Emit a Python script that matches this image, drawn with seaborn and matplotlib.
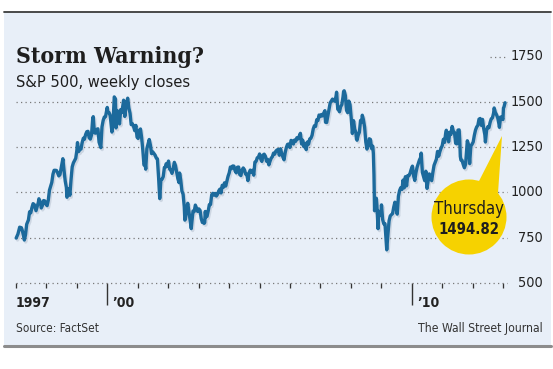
import matplotlib
matplotlib.use("Agg")
import matplotlib.pyplot as plt
import matplotlib.patheffects as pe
from matplotlib.patches import Rectangle, Ellipse, Polygon
from matplotlib.lines import Line2D
from matplotlib.transforms import blended_transform_factory
import seaborn as sns
import pandas as pd
import numpy as np

# ---------------- data ----------------
dates = [
 "1997-01-03","1997-01-24","1997-02-14","1997-03-07","1997-03-21","1997-04-11","1997-04-25","1997-05-09","1997-05-30","1997-06-13","1997-06-27","1997-07-11","1997-07-25","1997-08-08","1997-08-29","1997-09-12","1997-09-26","1997-10-03","1997-10-24","1997-10-31","1997-11-14","1997-11-28","1997-12-12","1997-12-26",
 "1998-01-09","1998-01-23","1998-02-06","1998-02-20","1998-03-06","1998-03-20","1998-04-03","1998-04-17","1998-05-01","1998-05-15","1998-05-29","1998-06-12","1998-06-26","1998-07-10","1998-07-17","1998-07-31","1998-08-14","1998-08-28","1998-09-04","1998-09-18","1998-10-02","1998-10-09","1998-10-23","1998-11-06","1998-11-20","1998-12-04","1998-12-18","1998-12-31",
 "1999-01-08","1999-01-22","1999-02-05","1999-02-19","1999-03-05","1999-03-19","1999-04-01","1999-04-16","1999-04-30","1999-05-14","1999-05-28","1999-06-11","1999-06-25","1999-07-09","1999-07-16","1999-07-30","1999-08-13","1999-08-27","1999-09-10","1999-09-24","1999-10-15","1999-10-29","1999-11-12","1999-11-26","1999-12-10","1999-12-31",
 "2000-01-07","2000-01-21","2000-02-04","2000-02-25","2000-03-10","2000-03-24","2000-04-07","2000-04-14","2000-04-28","2000-05-12","2000-05-26","2000-06-09","2000-06-23","2000-07-14","2000-07-28","2000-08-11","2000-08-25","2000-09-01","2000-09-15","2000-09-29","2000-10-13","2000-10-27","2000-11-10","2000-11-24","2000-12-08","2000-12-22",
 "2001-01-05","2001-01-19","2001-02-02","2001-02-16","2001-03-02","2001-03-16","2001-03-30","2001-04-06","2001-04-20","2001-05-04","2001-05-18","2001-06-01","2001-06-15","2001-06-29","2001-07-13","2001-07-27","2001-08-10","2001-08-24","2001-09-07","2001-09-21","2001-10-05","2001-10-19","2001-11-02","2001-11-16","2001-11-30","2001-12-07","2001-12-21",
 "2002-01-04","2002-01-18","2002-02-01","2002-02-15","2002-03-01","2002-03-15","2002-03-29","2002-04-12","2002-04-26","2002-05-10","2002-05-17","2002-05-31","2002-06-14","2002-06-28","2002-07-12","2002-07-19","2002-07-26","2002-08-09","2002-08-23","2002-09-06","2002-09-20","2002-10-04","2002-10-11","2002-10-25","2002-11-08","2002-11-22","2002-12-06","2002-12-20",
 "2003-01-03","2003-01-17","2003-01-31","2003-02-14","2003-02-28","2003-03-07","2003-03-14","2003-03-21","2003-03-28","2003-04-11","2003-04-25","2003-05-09","2003-05-23","2003-06-06","2003-06-20","2003-07-03","2003-07-18","2003-08-01","2003-08-15","2003-08-29","2003-09-12","2003-09-26","2003-10-10","2003-10-24","2003-11-07","2003-11-21","2003-12-05","2003-12-19",
 "2004-01-02","2004-01-16","2004-01-30","2004-02-13","2004-02-27","2004-03-12","2004-03-26","2004-04-09","2004-04-23","2004-05-07","2004-05-21","2004-06-04","2004-06-18","2004-07-02","2004-07-16","2004-07-30","2004-08-13","2004-08-27","2004-09-10","2004-09-24","2004-10-08","2004-10-22","2004-11-05","2004-11-19","2004-12-03","2004-12-17","2004-12-31",
 "2005-01-14","2005-01-28","2005-02-11","2005-02-25","2005-03-11","2005-03-25","2005-04-08","2005-04-22","2005-05-06","2005-05-20","2005-06-03","2005-06-17","2005-07-01","2005-07-15","2005-07-29","2005-08-12","2005-08-26","2005-09-09","2005-09-23","2005-10-07","2005-10-21","2005-11-04","2005-11-18","2005-12-02","2005-12-16","2005-12-30",
 "2006-01-13","2006-01-27","2006-02-10","2006-02-24","2006-03-10","2006-03-24","2006-04-07","2006-04-21","2006-05-05","2006-05-19","2006-06-02","2006-06-16","2006-06-30","2006-07-14","2006-07-28","2006-08-11","2006-08-25","2006-09-08","2006-09-22","2006-10-06","2006-10-20","2006-11-03","2006-11-17","2006-12-01","2006-12-15","2006-12-29",
 "2007-01-12","2007-01-26","2007-02-09","2007-02-23","2007-03-02","2007-03-16","2007-03-30","2007-04-13","2007-04-27","2007-05-11","2007-05-25","2007-06-08","2007-06-22","2007-07-06","2007-07-13","2007-07-27","2007-08-10","2007-08-17","2007-08-31","2007-09-14","2007-09-28","2007-10-05","2007-10-12","2007-10-26","2007-11-09","2007-11-23","2007-12-07","2007-12-21",
 "2008-01-04","2008-01-18","2008-02-01","2008-02-15","2008-02-29","2008-03-07","2008-03-14","2008-03-28","2008-04-11","2008-04-25","2008-05-09","2008-05-16","2008-05-30","2008-06-13","2008-06-27","2008-07-11","2008-07-25","2008-08-08","2008-08-22","2008-09-05","2008-09-19","2008-09-26","2008-10-03","2008-10-10","2008-10-17","2008-10-31","2008-11-07","2008-11-21","2008-11-28","2008-12-12","2008-12-26",
 "2009-01-02","2009-01-16","2009-01-30","2009-02-13","2009-02-27","2009-03-06","2009-03-20","2009-04-03","2009-04-17","2009-05-01","2009-05-15","2009-05-29","2009-06-12","2009-06-26","2009-07-10","2009-07-24","2009-08-07","2009-08-21","2009-09-04","2009-09-18","2009-10-02","2009-10-16","2009-10-30","2009-11-13","2009-11-27","2009-12-11","2009-12-24",
 "2010-01-08","2010-01-22","2010-02-05","2010-02-19","2010-03-05","2010-03-19","2010-04-02","2010-04-16","2010-04-23","2010-05-07","2010-05-21","2010-06-04","2010-06-18","2010-07-02","2010-07-16","2010-07-30","2010-08-13","2010-08-27","2010-09-10","2010-09-24","2010-10-08","2010-10-22","2010-11-05","2010-11-19","2010-12-03","2010-12-17","2010-12-31",
 "2011-01-14","2011-01-28","2011-02-11","2011-02-18","2011-03-04","2011-03-18","2011-04-01","2011-04-15","2011-04-29","2011-05-13","2011-05-27","2011-06-10","2011-06-24","2011-07-08","2011-07-22","2011-07-29","2011-08-05","2011-08-12","2011-08-26","2011-09-09","2011-09-23","2011-10-07","2011-10-21","2011-10-28","2011-11-11","2011-11-25","2011-12-09","2011-12-23",
 "2012-01-06","2012-01-20","2012-02-03","2012-02-17","2012-03-02","2012-03-16","2012-03-30","2012-04-13","2012-04-27","2012-05-11","2012-05-25","2012-06-01","2012-06-15","2012-06-29","2012-07-13","2012-07-27","2012-08-10","2012-08-24","2012-09-07","2012-09-14","2012-09-28","2012-10-12","2012-10-26","2012-11-09","2012-11-16","2012-11-30","2012-12-14","2012-12-28",
 "2013-01-04","2013-01-11","2013-01-18","2013-01-24",
]
closes = [
 748,770,808,805,784,737,766,824,848,893,887,916,938,933,899,923,945,965,941,914,928,955,953,936,
 927,957,1012,1034,1055,1100,1122,1122,1121,1108,1091,1098,1133,1165,1186,1121,1063,1027,973,1020,1002,984,1071,1141,1163,1176,1188,1229,
 1275,1225,1240,1239,1275,1299,1293,1320,1335,1337,1302,1294,1316,1403,1418,1329,1327,1348,1351,1277,1247,1362,1397,1416,1418,1469,
 1441,1441,1424,1333,1395,1527,1516,1356,1452,1421,1378,1457,1441,1509,1419,1472,1507,1520,1466,1437,1374,1379,1365,1341,1370,1305,
 1298,1342,1350,1302,1234,1151,1160,1128,1242,1267,1292,1261,1214,1224,1215,1206,1190,1185,1085,966,1071,1073,1087,1138,1139,1158,1144,
 1173,1128,1122,1105,1132,1166,1147,1112,1076,1054,1107,1067,1007,990,921,847,852,909,940,893,846,800,835,897,894,930,912,895,
 909,901,856,834,841,829,833,895,864,868,898,933,933,987,995,985,994,980,990,1008,1018,997,1039,1028,1053,1035,1061,1089,
 1108,1140,1131,1146,1145,1120,1108,1139,1140,1099,1093,1123,1135,1125,1101,1101,1065,1107,1123,1110,1122,1095,1167,1171,1191,1194,1212,
 1185,1171,1206,1211,1200,1172,1182,1152,1172,1189,1197,1217,1211,1228,1234,1237,1205,1241,1215,1196,1180,1220,1248,1265,1267,1248,
 1287,1284,1267,1289,1282,1302,1295,1311,1326,1267,1288,1252,1270,1236,1278,1266,1295,1299,1315,1350,1368,1364,1401,1396,1427,1418,
 1430,1422,1438,1451,1387,1386,1421,1453,1494,1505,1515,1507,1503,1530,1553,1459,1453,1445,1474,1484,1527,1557,1561,1535,1453,1440,1504,1484,
 1411,1325,1396,1349,1331,1294,1288,1316,1332,1397,1389,1426,1400,1360,1278,1239,1257,1296,1292,1242,1255,1213,1099,899,940,968,930,800,896,879,872,
 931,850,826,827,735,683,768,843,870,877,883,919,946,918,880,979,1010,1026,1016,1068,1025,1087,1036,1093,1092,1106,1127,
 1145,1092,1066,1109,1139,1160,1179,1192,1217,1111,1088,1065,1117,1022,1065,1102,1079,1065,1110,1149,1166,1183,1226,1200,1225,1244,1258,
 1293,1276,1329,1343,1321,1279,1332,1320,1364,1338,1331,1271,1268,1344,1345,1292,1199,1179,1177,1154,1136,1155,1238,1285,1264,1159,1255,1265,
 1278,1315,1344,1361,1370,1404,1408,1370,1403,1353,1318,1278,1343,1362,1357,1386,1406,1411,1438,1466,1441,1429,1412,1380,1359,1416,1414,1402,
 1466,1472,1486,1494.82,
]
y_ticks = [500, 750, 1000, 1250, 1500, 1750]
x_year_ticks = list(range(1997, 2014))
x_major_years = [2000, 2010]
x_labels = {1997: "1997", 2000: "\u201900", 2010: "\u201910"}
title = "Storm Warning?"
subtitle = "S&P 500, weekly closes"
source = "Source: FactSet"
credit = "The Wall Street Journal"
callout_day = "Thursday"

d = pd.to_datetime(pd.Series(dates))
df = pd.DataFrame({"year": d.dt.year + (d.dt.dayofyear - 1) / 365.25, "close": closes})

# ---------------- figure ----------------
W, H = 553, 369
sns.set_style("white")
plt.rcParams["font.family"] = ["DejaVu Sans"]
plt.rcParams["font.stretch"] = "condensed"

fig = plt.figure(figsize=(W / 100, H / 100), dpi=100)
fig.patch.set_facecolor("white")
PT = 72 / 100  # points per pixel

def fx(px):
    return px / W

def fy(py):
    return 1 - py / H

BG = "#e8eff8"
fig.add_artist(Rectangle((fx(4), fy(346)), fx(551) - fx(4), fy(12) - fy(346),
                         transform=fig.transFigure, facecolor=BG, edgecolor="none", zorder=0))
fig.add_artist(Line2D([fx(4), fx(551)], [fy(12), fy(12)], transform=fig.transFigure,
                      color="#3c3c3c", lw=1.3, zorder=1))
fig.add_artist(Line2D([fx(4), fx(551)], [fy(346), fy(346)], transform=fig.transFigure,
                      color="#8c8c8c", lw=2.2, zorder=1))

px_per_year = 30.45
x0_px, x1_px = 16, 507
y500_px, y1750_px = 283, 56.5
ax = fig.add_axes([fx(x0_px), fy(y500_px), fx(x1_px) - fx(x0_px), fy(y1750_px) - fy(y500_px)])
ax.patch.set_alpha(0)
ax.set_xlim(1997, 1997 + (x1_px - x0_px) / px_per_year)
ax.set_ylim(500, 1750)
for s in ax.spines.values():
    s.set_visible(False)

dot = (0, (1, 2.6))
for v in y_ticks[:-1]:
    ax.axhline(v, color="#7a7a7a", lw=0.9, ls=dot, zorder=1, clip_on=False)
ax.axhline(y_ticks[-1], xmin=0.966, xmax=1.0, color="#7a7a7a", lw=0.9, ls=dot, zorder=1, clip_on=False)

sns.lineplot(data=df, x="year", y="close", ax=ax, color="#1c6a9c", lw=2.4, zorder=3)
line = ax.lines[-1]
line.set_path_effects([pe.SimpleLineShadow(offset=(1.0, -1.4), shadow_color="#7d8fa3", alpha=0.25),
                       pe.Normal()])
line.set_solid_joinstyle("round")
line.set_clip_on(False)

ax.set_xlabel("")
ax.set_ylabel("")
ax.set_yticks([])
ax.set_xticks(x_major_years)
ax.set_xticklabels([])
ax.set_xticks(x_year_ticks, minor=True)
ax.tick_params(axis="x", which="both", bottom=True, top=False)
ax.tick_params(axis="x", which="major", length=22 * PT, width=1.4 * PT, color="#333333",
               direction="out", pad=0)
ax.tick_params(axis="x", which="minor", length=5 * PT, width=1.3 * PT, color="#333333",
               direction="out")

for yr, lab in x_labels.items():
    dx = 0 if yr == 1997 else 5
    ax.annotate(lab, xy=(yr, 500), xytext=(dx, -13), textcoords="offset pixels",
                ha="left", va="top", fontsize=10, fontweight="bold", color="#222222")

ytr = blended_transform_factory(fig.transFigure, ax.transData)
for v in y_ticks:
    ax.text(fx(543), v, f"{v}", transform=ytr, ha="right", va="center",
            fontsize=10.4, color="#222222")

fig.text(fx(16), fy(62.5), title, ha="left", va="baseline", fontsize=16.5,
         fontweight="bold", family=["DejaVu Serif"], fontstretch="condensed", color="#1e1e1e")
fig.text(fx(16), fy(87), subtitle, ha="left", va="baseline", fontsize=11.8, color="#1e1e1e")
fig.text(fx(16), fy(332), source, ha="left", va="baseline", fontsize=8.5, color="#333333")
fig.text(fx(543), fy(332), credit, ha="right", va="baseline", fontsize=8.7, color="#333333")

# callout
YEL = "#f6d200"
cx, cy, r = 469, 217, 37.5
fig.add_artist(Polygon([(fx(502), fy(136)), (fx(478), fy(183)), (fx(498), fy(193))],
                       closed=True, transform=fig.transFigure, facecolor=YEL, edgecolor="none", zorder=5))
fig.add_artist(Ellipse((fx(cx), fy(cy)), 2 * r / W, 2 * r / H, transform=fig.transFigure,
                       facecolor=YEL, edgecolor="none", zorder=5))
fig.text(fx(cx), fy(209), callout_day, ha="center", va="center", fontsize=12, color="#1e1e1e", zorder=6)
fig.text(fx(cx), fy(229), f"{closes[-1]:.2f}", ha="center", va="center", fontsize=10.7,
         fontweight="bold", color="#1e1e1e", zorder=6)

fig.savefig("out.png", dpi=100)
